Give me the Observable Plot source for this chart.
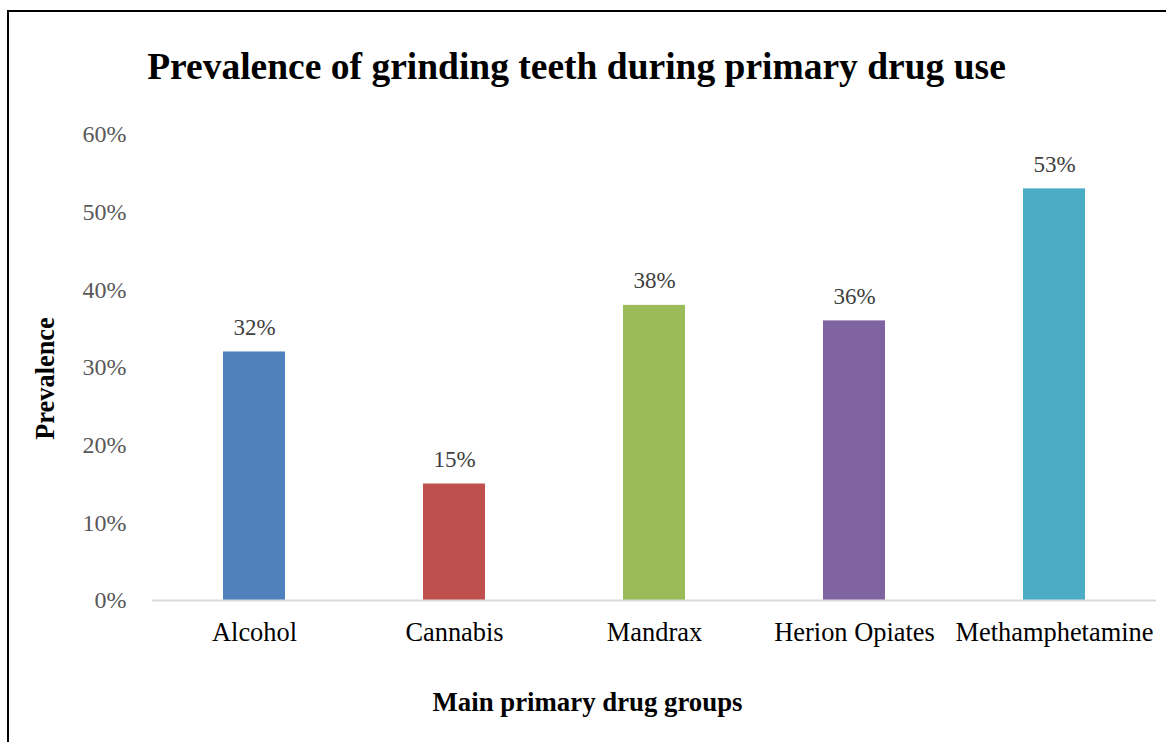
<!DOCTYPE html>
<html>
<head>
<meta charset="utf-8">
<script src="https://cdn.jsdelivr.net/npm/d3@7"></script>
<script src="https://cdn.jsdelivr.net/npm/@observablehq/plot@0.6"></script>
<style>
  html, body { margin: 0; padding: 0; background: #fff; overflow: hidden; }
  #wrap { position: relative; width: 1166px; height: 742px; font-family: "Liberation Serif", "Times New Roman", serif; }
  #frame { position: absolute; left: 7px; top: 10px; width: 1300px; height: 900px;
           border-top: 2px solid #000; border-left: 2px solid #000; pointer-events: none; }
  #title { position: relative; height: 100px; }
  #title span { position: absolute; left: 576.5px; top: 47.6px; transform: translateX(-50%);
                white-space: nowrap; font-weight: bold; font-size: 37.5px; line-height: 37.5px; color: #000; }
  #chart svg { display: block; }
</style>
</head>
<body>
<div id="wrap">
  <div id="title"><span>Prevalence of grinding teeth during primary drug use</span></div>
  <div id="chart"></div>
  <div id="frame"></div>
</div>
<script>
// Drug groups and share of users reporting teeth grinding
const categories = ["Alcohol", "Cannabis", "Mandrax", "Herion Opiates", "Methamphetamine"];
const prevalence = [0.32, 0.15, 0.38, 0.36, 0.53];
const barColors = ["#4F81BD", "#C0504D", "#9BBB59", "#8064A2", "#4BACC6"];
const yTicks = [0, 0.1, 0.2, 0.3, 0.4, 0.5, 0.6];
const yLabel = "Prevalence";
const xLabel = "Main primary drug groups";

const serif = '"Liberation Serif", "Times New Roman", serif';
const data = categories.map((c, i) => ({category: c, value: prevalence[i], color: barColors[i]}));
const pct = d => Math.round(d * 100) + "%";

const chart = Plot.plot({
  width: 1166,
  height: 642,
  marginLeft: 152,
  marginRight: 10,
  marginTop: 34,
  marginBottom: 142,
  style: {fontFamily: serif, background: "#fff"},
  x: {type: "band", domain: categories, padding: 0},
  y: {domain: [0, 0.6]},
  marks: [
    Plot.barY(data, {x: "category", y: "value", fill: "color", insetLeft: 69, insetRight: 69}),
    Plot.ruleY([0], {stroke: "#D9D9D9", strokeWidth: 2}),
    Plot.text(data, {x: "category", y: "value", text: d => pct(d.value), lineAnchor: "bottom",
                     dy: -17, fontSize: 23, fontFamily: serif, fill: "#404040"}),
    Plot.axisY({ticks: yTicks, tickFormat: pct, tickSize: 0, tickPadding: 26, fontSize: 24,
                fontFamily: serif, color: "#595959", label: null}),
    Plot.axisX({tickSize: 0, tickPadding: 21.5, fontSize: 26.4, fontFamily: serif, color: "#000", label: null}),
    Plot.text([yLabel], {frameAnchor: "left", text: d => d, rotate: -90, dx: -107, dy: 11,
                         textAnchor: "middle", lineAnchor: "middle",
                         fontSize: 26.4, fontWeight: "bold", fontFamily: serif, fill: "#000"}),
    Plot.text([xLabel], {frameAnchor: "bottom", text: d => d, dx: -67, dy: 101.5,
                         textAnchor: "middle", lineAnchor: "middle",
                         fontSize: 26.8, fontWeight: "bold", fontFamily: serif, fill: "#000"})
  ]
});
document.getElementById("chart").appendChild(chart);
</script>
</body>
</html>
